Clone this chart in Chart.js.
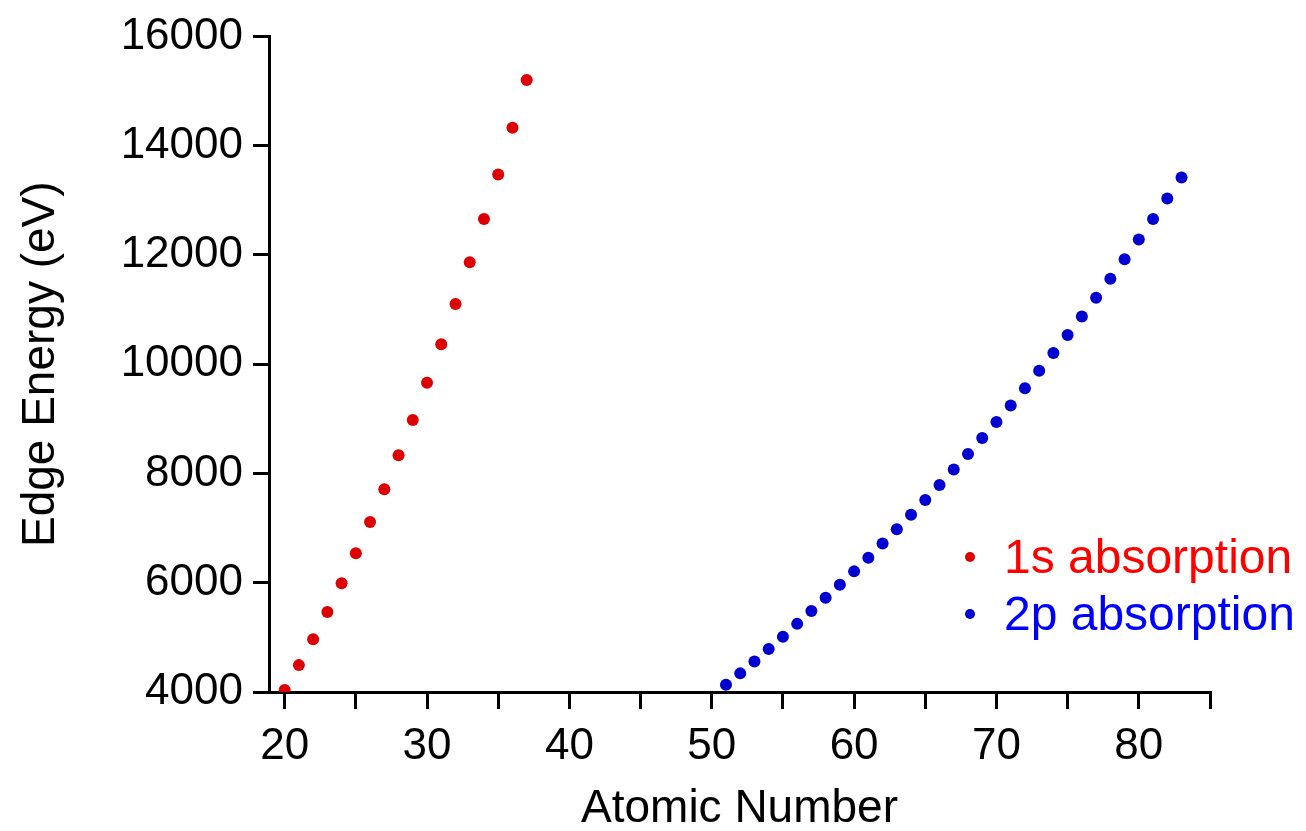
<!DOCTYPE html>
<html lang="en">
<head>
    <meta charset="UTF-8">
    <title>Edge Energy vs Atomic Number</title>
    <script src="https://cdn.jsdelivr.net/npm/chart.js"></script>
    <style>
        body {
            margin: 0;
            background: #ffffff;
        }

        .chart-container {
            width: 1306px;
            height: 831px;
        }
    </style>
</head>
<body>
    <div class="chart-container">
        <canvas id="edgeChart"></canvas>
    </div>

    <script>
        // 1s (K edge) absorption, Z = 20..37
        const kAtomicNumbers = [20, 21, 22, 23, 24, 25, 26, 27, 28, 29, 30, 31, 32, 33, 34, 35, 36, 37];
        const kEdgeEnergies = [4038, 4492, 4966, 5465, 5989, 6539, 7112, 7709, 8333, 8979,
            9659, 10367, 11103, 11867, 12658, 13474, 14326, 15200];

        // 2p (L3 edge) absorption, Z = 51..83
        const lAtomicNumbers = [51, 52, 53, 54, 55, 56, 57, 58, 59, 60, 61, 62, 63, 64, 65, 66, 67,
            68, 69, 70, 71, 72, 73, 74, 75, 76, 77, 78, 79, 80, 81, 82, 83];
        const lEdgeEnergies = [4132, 4341, 4557, 4786, 5012, 5247, 5483, 5723, 5964, 6208, 6459,
            6716, 6977, 7243, 7514, 7790, 8071, 8358, 8648, 8944, 9244, 9561, 9881, 10207,
            10535, 10871, 11215, 11564, 11919, 12284, 12658, 13035, 13419];

        const seriesLabels = ['1s absorption', '2p absorption'];
        const xTickValues = [20, 25, 30, 35, 40, 45, 50, 55, 60, 65, 70, 75, 80, 85];
        const yTickValues = [4000, 6000, 8000, 10000, 12000, 14000, 16000];

        const toPoints = (xs, ys) => xs.map((x, i) => ({ x: x, y: ys[i] }));

        // legend drawn inside the plot, right bottom
        const insideLegend = {
            id: 'insideLegend',
            afterDraw(chart) {
                const ctx = chart.ctx;
                const rows = [557, 614];
                ctx.save();
                ctx.font = '48px "Liberation Sans", Arial, sans-serif';
                ctx.textBaseline = 'middle';
                chart.data.datasets.forEach((ds, i) => {
                    ctx.fillStyle = ds.backgroundColor;
                    ctx.beginPath();
                    ctx.arc(970, rows[i], 5, 0, Math.PI * 2);
                    ctx.fill();
                    ctx.fillStyle = ds.legendTextColor;
                    ctx.fillText(ds.label, 1004, rows[i] + 3);
                });
                ctx.restore();
            }
        };

        const axisFont = { family: '"Liberation Sans", Arial, sans-serif', size: 44 };
        const titleFont = { family: '"Liberation Sans", Arial, sans-serif', size: 46, lineHeight: 1 };

        new Chart(document.getElementById('edgeChart'), {
            type: 'scatter',
            data: {
                datasets: [{
                    label: seriesLabels[0],
                    data: toPoints(kAtomicNumbers, kEdgeEnergies),
                    backgroundColor: '#dd0000',
                    borderWidth: 0,
                    pointRadius: 6,
                    legendTextColor: '#ff0000'
                }, {
                    label: seriesLabels[1],
                    data: toPoints(lAtomicNumbers, lEdgeEnergies),
                    backgroundColor: '#0000d0',
                    borderWidth: 0,
                    pointRadius: 6,
                    legendTextColor: '#0000ff'
                }]
            },
            options: {
                responsive: true,
                maintainAspectRatio: false,
                animation: false,
                layout: {
                    padding: { top: 35, right: 96, left: 0, bottom: 0 }
                },
                scales: {
                    x: {
                        type: 'linear',
                        min: 18.9,
                        max: 85,
                        afterBuildTicks: s => { s.ticks = xTickValues.map(v => ({ value: v })); },
                        afterFit: s => { s.height = 139; },
                        ticks: {
                            color: '#000',
                            font: axisFont,
                            padding: 11,
                            maxRotation: 0,
                            autoSkip: false,
                            callback: v => (v % 10 === 0 ? String(v) : '')
                        },
                        grid: {
                            drawOnChartArea: false,
                            color: '#000',
                            lineWidth: 3,
                            tickLength: 17
                        },
                        border: { color: '#000', width: 3 },
                        title: {
                            display: true,
                            text: 'Atomic Number',
                            color: '#000',
                            font: titleFont,
                            padding: { top: 0, bottom: -1 }
                        }
                    },
                    y: {
                        min: 4000,
                        max: 16000,
                        afterBuildTicks: s => { s.ticks = yTickValues.map(v => ({ value: v })); },
                        afterFit: s => { s.width = 269; },
                        ticks: {
                            color: '#000',
                            font: axisFont,
                            padding: 10,
                            callback: v => String(v)
                        },
                        grid: {
                            drawOnChartArea: false,
                            color: '#000',
                            lineWidth: 3,
                            tickLength: 16
                        },
                        border: { color: '#000', width: 3 },
                        title: {
                            display: true,
                            text: 'Edge Energy (eV)',
                            color: '#000',
                            font: titleFont,
                            padding: { top: 18, bottom: 0 }
                        }
                    }
                },
                plugins: {
                    legend: { display: false },
                    tooltip: { enabled: false }
                }
            },
            plugins: [insideLegend]
        });
    </script>
</body>
</html>
